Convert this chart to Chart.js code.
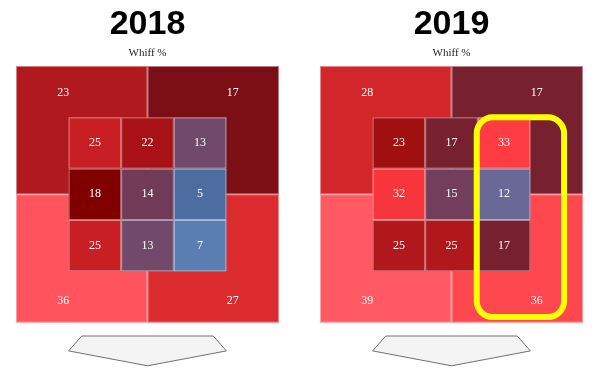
<!DOCTYPE html>
<html>
<head>
<meta charset="utf-8">
<script src="https://cdn.jsdelivr.net/npm/chart.js@4"></script>
<style>
  body { margin: 0; background: #fff; }
  .wrap { display: flex; width: 600px; height: 376px; }
  canvas { display: block; }
</style>
</head>
<body>
<div class="wrap">
  <canvas id="c2018" width="300" height="376"></canvas>
  <canvas id="c2019" width="300" height="376"></canvas>
</div>
<script>
const years = ['2018', '2019'];
const metric = 'Whiff %';

// outer zones: top-left, top-right, bottom-left, bottom-right
const outer2018 = [23, 17, 36, 27];
const outer2019 = [28, 17, 39, 36];

// inner 3x3 zone, rows from top to bottom
const inner2018 = [25, 22, 13, 18, 14, 5, 25, 13, 7];
const inner2019 = [23, 17, 33, 32, 15, 12, 25, 25, 17];

// colour scale (value -> colour), one per year
const scale2018 = {5: '#4d6ca0', 7: '#5a7db2', 13: '#714a6b', 14: '#713a57', 17: '#7c0f16',
  18: '#800000', 22: '#a81216', 23: '#b0191d', 25: '#c71f24', 27: '#dc2b2f', 36: '#ff535d'};
const scale2019 = {12: '#696896', 15: '#723e5c', 17: '#772130', 23: '#a01010', 25: '#b0181c',
  28: '#d2262a', 32: '#f6353c', 33: '#ff3b44', 36: '#ff4750', 39: '#ff5a63'};

// highlighted column on 2019 (zone units)
const highlight2019 = {x0: 1.98, x1: 3.64, y0: -0.89, y1: 3.0};

// zone helper geometry: inner grid is 0..3, outer box is -1..4
const outerBoxes = [[-1, 1.5, 1.5, 4], [1.5, 4, 1.5, 4], [-1, 1.5, -1, 1.5], [1.5, 4, -1, 1.5]];
const outerLabelPos = [[-0.1, 3.47], [3.12, 3.47], [-0.1, -0.58], [3.12, -0.58]];
const plate = [[0.25, -1.26], [2.75, -1.26], [3, -1.55], [1.5, -1.84], [0, -1.55]];

const zonePlugin = {
  id: 'zone',
  afterDatasetsDraw(chart, args, opts) {
    const {ctx, scales: {x, y}} = chart;
    const px = v => x.getPixelForValue(v);
    const py = v => y.getPixelForValue(v);
    const rect = (x0, x1, y0, y1, fill) => {
      const l = px(x0), r = px(x1), t = py(y1), b = py(y0);
      ctx.fillStyle = fill;
      ctx.fillRect(l, t, r - l, b - t);
      ctx.strokeStyle = 'rgba(255,255,255,0.45)';
      ctx.lineWidth = 1;
      ctx.strokeRect(l + 0.5, t + 0.5, r - l - 1, b - t - 1);
    };
    const label = (v, xv, yv) => {
      ctx.fillStyle = '#fff';
      ctx.font = '12px "Liberation Serif", serif';
      ctx.textAlign = 'center';
      ctx.textBaseline = 'middle';
      ctx.fillText(String(v), px(xv), py(yv));
    };
    ctx.save();
    opts.outer.forEach((v, i) => {
      const [x0, x1, y0, y1] = outerBoxes[i];
      rect(x0, x1, y0, y1, opts.colors[v]);
    });
    opts.outer.forEach((v, i) => label(v, outerLabelPos[i][0], outerLabelPos[i][1]));
    opts.inner.forEach((v, i) => {
      const col = i % 3, row = Math.floor(i / 3);
      rect(col, col + 1, 2 - row, 3 - row, opts.colors[v]);
      label(v, col + 0.5, 2.5 - row);
    });
    // home plate
    ctx.beginPath();
    plate.forEach(([a, b], i) => i ? ctx.lineTo(px(a), py(b)) : ctx.moveTo(px(a), py(b)));
    ctx.closePath();
    ctx.fillStyle = '#f4f4f4';
    ctx.fill();
    ctx.strokeStyle = '#707070';
    ctx.lineWidth = 1;
    ctx.stroke();
    // highlight
    if (opts.highlight) {
      const h = opts.highlight;
      const l = px(h.x0), r = px(h.x1), t = py(h.y1), b = py(h.y0);
      ctx.beginPath();
      ctx.roundRect(l, t, r - l, b - t, 16);
      ctx.strokeStyle = '#ffff00';
      ctx.lineWidth = 6;
      ctx.stroke();
    }
    ctx.restore();
  }
};

function makeChart(id, year, outer, inner, colors, highlight, padL, padR) {
  new Chart(document.getElementById(id), {
    type: 'scatter',
    data: {datasets: [{data: []}]},
    options: {
      responsive: false,
      animation: false,
      events: [],
      layout: {padding: {left: padL, right: padR, top: 0, bottom: 2}},
      scales: {
        x: {type: 'linear', min: -1, max: 4, display: false},
        y: {type: 'linear', min: -2, max: 4, display: false}
      },
      plugins: {
        legend: {display: false},
        tooltip: {enabled: false},
        title: {
          display: true,
          text: year,
          color: '#000',
          font: {family: '"Liberation Sans", Arial, sans-serif', size: 34, weight: 'bold'},
          padding: {top: 4, bottom: 2}
        },
        subtitle: {
          display: true,
          text: metric,
          color: '#222',
          font: {family: '"Liberation Serif", serif', size: 11},
          padding: {top: 0, bottom: 6}
        },
        zone: {outer, inner, colors, highlight}
      }
    },
    plugins: [zonePlugin]
  });
}

makeChart('c2018', years[0], outer2018, inner2018, scale2018, null, 16, 21);
makeChart('c2019', years[1], outer2019, inner2019, scale2019, highlight2019, 20, 17);
</script>
</body>
</html>
